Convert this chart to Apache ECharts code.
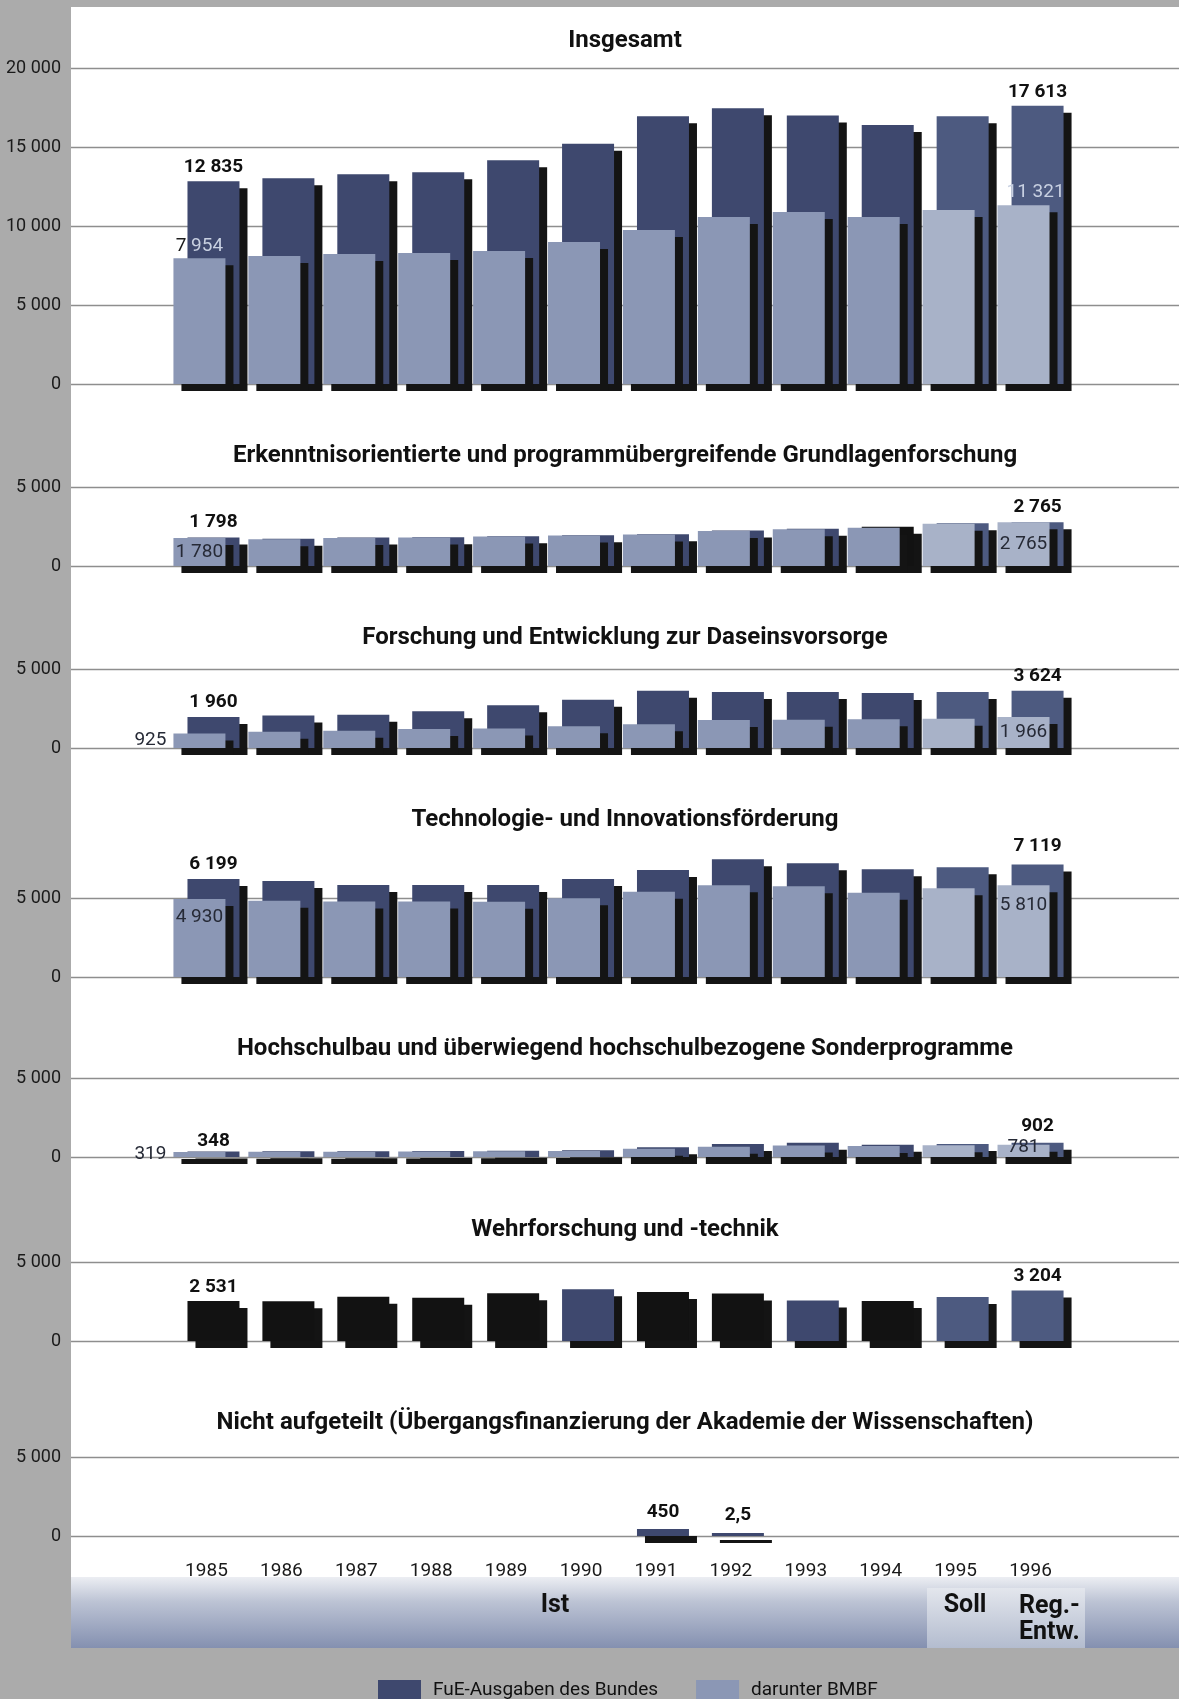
<!DOCTYPE html>
<html><head><meta charset="utf-8">
<script src="https://cdn.jsdelivr.net/npm/echarts@6/dist/echarts.min.js"></script>
<style>html,body{margin:0;padding:0;background:#ababab;} #c{width:1179px;height:1699px;}</style>
</head><body><div id="c"></div>
<script>
// ---------------- data ----------------
const years = ['1985','1986','1987','1988','1989','1990','1991','1992','1993','1994','1995','1996'];
const panelTitles = [
  'Insgesamt',
  'Erkenntnisorientierte und programmübergreifende Grundlagenforschung',
  'Forschung und Entwicklung zur Daseinsvorsorge',
  'Technologie- und Innovationsförderung',
  'Hochschulbau und überwiegend hochschulbezogene Sonderprogramme',
  'Wehrforschung und -technik',
  'Nicht aufgeteilt (Übergangsfinanzierung der Akademie der Wissenschaften)'
];
const seriesNames = ['FuE-Ausgaben des Bundes', 'darunter BMBF'];
const fueInsgesamt  = [12835, 13020, 13270, 13400, 14160, 15200, 16950, 17450, 17000, 16400, 16950, 17613];
const bmbfInsgesamt = [7954, 8100, 8230, 8290, 8420, 8990, 9750, 10570, 10890, 10570, 11010, 11321];
const fueGrundlagen  = [1798, 1720, 1800, 1820, 1880, 1950, 2010, 2250, 2350, 2480, 2700, 2765];
const bmbfGrundlagen = [1780, 1700, 1780, 1800, 1860, 1930, 1990, 2220, 2330, 2420, 2680, 2765];
const fueDasein  = [1960, 2060, 2110, 2320, 2700, 3060, 3630, 3540, 3540, 3480, 3540, 3624];
const bmbfDasein = [925, 1030, 1095, 1200, 1240, 1370, 1500, 1780, 1790, 1820, 1850, 1966];
const fueTechnologie  = [6199, 6080, 5820, 5820, 5820, 6200, 6780, 7450, 7200, 6820, 6940, 7119];
const bmbfTechnologie = [4930, 4830, 4780, 4780, 4760, 4990, 5400, 5800, 5740, 5330, 5610, 5810];
const fueHochschul  = [348, 360, 370, 380, 400, 420, 620, 830, 900, 780, 830, 902];
const bmbfHochschul = [319, 330, 340, 350, 360, 380, 520, 650, 720, 690, 740, 781];
const fueWehr  = [2531, 2510, 2800, 2740, 3020, 3270, 3100, 3000, 2570, 2530, 2780, 3204];
const bmbfWehr = [null, null, null, null, null, null, null, null, null, null, null, null];
const fueNicht  = [null, null, null, null, null, null, 450, 2.5, null, null, null, null];
const bmbfNicht = [null, null, null, null, null, null, null, null, null, null, null, null];
const axisMax = [20000, 5000, 5000, 5000, 5000, 5000, 5000];
const periodLabels = ['Ist', 'Soll', 'Reg.-\nEntw.'];

// ---------------- layout & style ----------------
const FONT = "Roboto,'Liberation Sans',sans-serif";
const fueSets = [fueInsgesamt, fueGrundlagen, fueDasein, fueTechnologie, fueHochschul, fueWehr, fueNicht];
const bmbfSets = [bmbfInsgesamt, bmbfGrundlagen, bmbfDasein, bmbfTechnologie, bmbfHochschul, bmbfWehr, bmbfNicht];
const plotTop  = [68, 487, 669, 898, 1078, 1262, 1457];
const plotZero = [384, 566, 748, 977, 1157, 1341, 1536];
const titleTop = [29, 444, 626, 808, 1037, 1218, 1411];
const DARK = '#3e486e', DARK2 = '#4d5a80', LIGHT = '#8b97b5', LIGHT2 = '#a8b2c8', BLACK = '#121212';
const blackBars = {1: [9], 5: [0, 1, 2, 3, 4, 6, 7, 9]};
const LAB = 19;

function fmt(v) {
  if (v == null) return '';
  if (v % 1 !== 0) return String(v).replace('.', ',');
  return String(v).replace(/\B(?=(\d{3})+(?!\d))/g, ' ');
}
const boldLab = (dist) => ({show: true, position: 'top', distance: dist, fontFamily: FONT, fontSize: LAB, fontWeight: 'bold', color: '#111'});
const normLab = (pos, extra) => Object.assign({show: true, position: pos, fontFamily: FONT, fontSize: LAB, color: '#262a36'}, extra || {});
// label specs per panel: [dark labels, light labels]
const labelSpec = [
  [{0: boldLab(4), 11: boldLab(4)},
   {0: normLab('top', {distance: 3, formatter: p => { const s = fmt(p.value); return '{a|' + s.slice(0, 1) + '}{b|' + s.slice(1) + '}'; },
        rich: {a: {color: '#1c1c1c', fontFamily: FONT, fontSize: LAB}, b: {color: '#c8d0e1', fontFamily: FONT, fontSize: LAB}}}),
    11: normLab('top', {distance: 3, color: '#c8d0e1', offset: [12, 0]})}],
  [{0: boldLab(6), 11: boldLab(6)}, {0: normLab('inside'), 11: normLab('inside')}],
  [{0: boldLab(5), 11: boldLab(5)}, {0: normLab('left', {distance: 7}), 11: normLab('inside')}],
  [{0: boldLab(5), 11: boldLab(9)}, {0: normLab('insideTop', {distance: 9}), 11: normLab('insideTop', {distance: 11})}],
  [{0: boldLab(1), 11: boldLab(7)}, {0: normLab('left', {distance: 7}), 11: normLab('top', {distance: 0, offset: [0, 12]})}],
  [{0: boldLab(4), 11: boldLab(5)}, {}],
  [{6: boldLab(7), 7: boldLab(8)}, {}]
];

const grid = [], xAxis = [], yAxis = [], series = [], title = [];
panelTitles.forEach((t, k) => {
  const h = plotZero[k] - plotTop[k];
  title.push({text: t, left: 625, top: titleTop[k], textAlign: 'center', padding: 0,
    textStyle: {fontFamily: FONT, fontSize: 24, fontWeight: 'bold', color: '#111'}});
  // background grid: full-width gridlines + value labels
  grid.push({left: 71, right: 0, top: plotTop[k], height: h, outerBoundsMode: 'none', containLabel: false});
  xAxis.push({gridIndex: 2 * k, type: 'value', min: 0, max: 1, show: false});
  yAxis.push({gridIndex: 2 * k, type: 'value', min: 0, max: axisMax[k], interval: 5000,
    axisLine: {show: false}, axisTick: {show: false},
    axisLabel: {margin: 10, fontFamily: FONT, fontSize: 18, color: '#1a1a1a', formatter: v => fmt(v)},
    splitLine: {lineStyle: {color: '#8e8e8e', width: 1.3}}});
  // bar grid
  grid.push({left: 169, right: 111, top: plotTop[k], height: h, outerBoundsMode: 'none', containLabel: false});
  xAxis.push({gridIndex: 2 * k + 1, type: 'category', data: years,
    axisLine: {show: false}, axisTick: {show: false},
    axisLabel: {show: k === 6, margin: 26, fontFamily: FONT, fontSize: 19, color: '#1a1a1a'}});
  yAxis.push({gridIndex: 2 * k + 1, type: 'value', min: 0, max: axisMax[k], show: false, splitLine: {show: false}});

  const mk = (arr, kind) => arr.map((v, i) => {
    let color;
    if (kind === 0) color = (blackBars[k] && blackBars[k].includes(i)) ? BLACK : (i >= 10 ? DARK2 : DARK);
    else color = i >= 10 ? LIGHT2 : LIGHT;
    const item = {value: v, itemStyle: {color}};
    const spec = labelSpec[k][kind][i];
    if (spec) item.label = Object.assign({formatter: p => fmt(p.value)}, spec);
    return item;
  });
  const common = {type: 'bar', xAxisIndex: 2 * k + 1, yAxisIndex: 2 * k + 1, barWidth: 52, barGap: '-73%',
    clip: false, animation: false, silent: true,
    label: {show: false}};
  const shadow = {shadowColor: '#141414', shadowBlur: 0, shadowOffsetX: 8, shadowOffsetY: 7};
  series.push(Object.assign({}, common, {name: seriesNames[1], z: 3, data: mk(bmbfSets[k], 1),
    itemStyle: Object.assign({color: LIGHT}, shadow)}));
  series.push(Object.assign({}, common, {name: seriesNames[0], z: 2, data: mk(fueSets[k], 0),
    barMinHeight: k === 6 ? 3 : 0,
    itemStyle: Object.assign({color: DARK}, shadow)}));
});

const graphic = [
  {type: 'rect', z: -10, silent: true, shape: {x: 71, y: 7, width: 1108, height: 1572}, style: {fill: '#ffffff'}},
  {type: 'rect', z: -9, silent: true, shape: {x: 71, y: 1577, width: 1108, height: 71},
    style: {fill: new echarts.graphic.LinearGradient(0, 0, 0, 1, [
      {offset: 0, color: '#eceef3'}, {offset: 0.35, color: '#bcc3d4'}, {offset: 1, color: '#8490b0'}])}},
  {type: 'rect', z: -8, silent: true, shape: {x: 927, y: 1588, width: 158, height: 60},
    style: {fill: new echarts.graphic.LinearGradient(0, 0, 0, 1, [
      {offset: 0, color: '#e3e6ed'}, {offset: 1, color: '#b3bccf'}])}},
  {type: 'text', z: 10, silent: true, style: {x: 555, y: 1606, text: periodLabels[0], align: 'center', verticalAlign: 'middle',
    font: 'bold 25px ' + FONT, fill: '#111'}},
  {type: 'text', z: 10, silent: true, style: {x: 965, y: 1606, text: periodLabels[1], align: 'center', verticalAlign: 'middle',
    font: 'bold 25px ' + FONT, fill: '#111'}},
  {type: 'text', z: 10, silent: true, style: {x: 1019, y: 1594, text: periodLabels[2], align: 'left', verticalAlign: 'top',
    font: 'bold 25px ' + FONT, lineHeight: 26, fill: '#111'}}
];

const chart = echarts.init(document.getElementById('c'), null, {renderer: 'canvas'});
chart.setOption({
  animation: false,
  backgroundColor: 'transparent',
  title, grid, xAxis, yAxis, series, graphic,
  legend: {data: [seriesNames[0], seriesNames[1]], left: 373, top: 1675, itemWidth: 43, itemHeight: 20, itemGap: 38,
    icon: 'rect', selectedMode: false,
    textStyle: {fontFamily: FONT, fontSize: 19, color: '#111', padding: [0, 0, 0, 7]}}
});
</script></body></html>
